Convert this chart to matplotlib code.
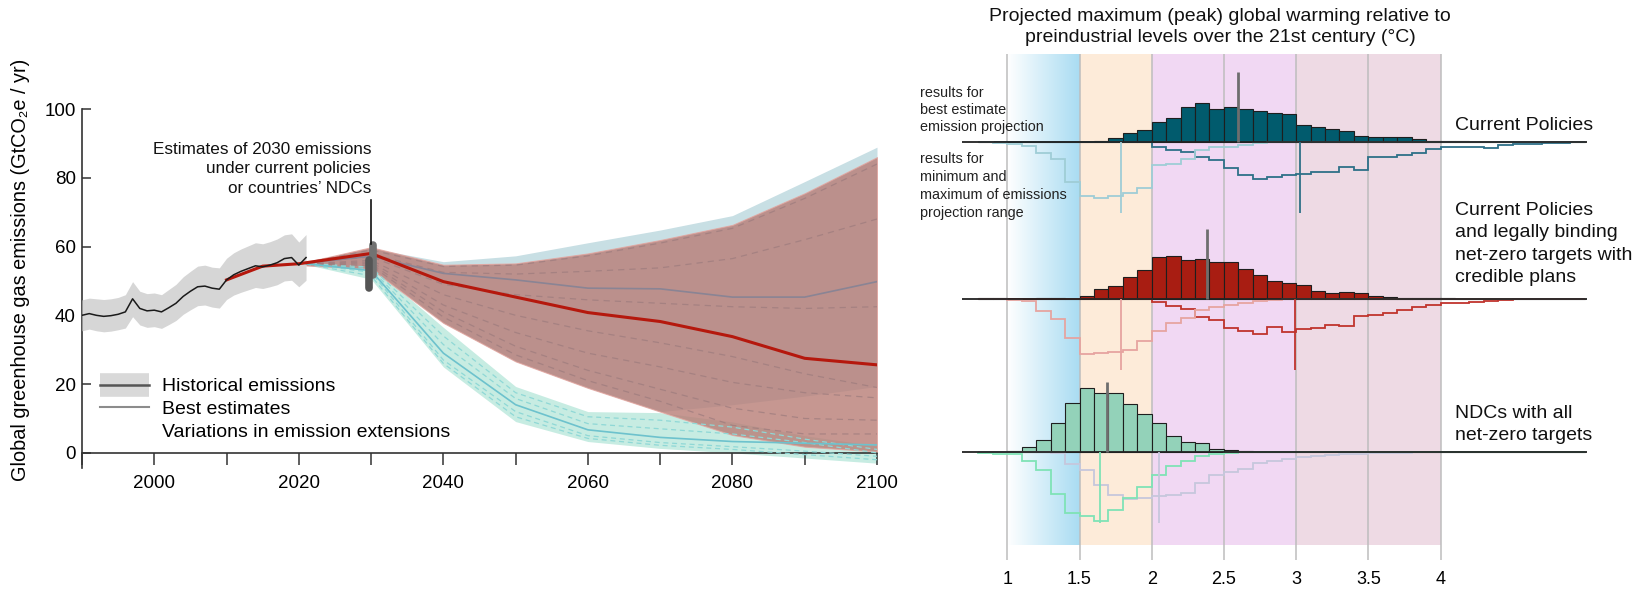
import numpy as np
import matplotlib
matplotlib.use('Agg')
import matplotlib.pyplot as plt
from matplotlib.lines import Line2D
from matplotlib.colors import LinearSegmentedColormap

plt.rcParams['font.family'] = ['Liberation Sans', 'DejaVu Sans']

# ------------------------------------------------------------------ data (left)
hist_years = list(range(1990, 2022))
hist_mid = [40.0, 40.5, 40.0, 39.7, 39.9, 40.3, 41.0, 44.8, 42.0, 41.3, 41.5, 41.0,
            42.2, 43.5, 45.5, 47.0, 48.3, 48.5, 47.9, 47.6, 50.3, 51.8, 52.8, 53.6,
            54.4, 54.1, 54.6, 55.3, 56.5, 56.8, 54.6, 56.8]
hist_hi = [44.5, 45.0, 44.8, 44.6, 44.8, 45.2, 46.0, 49.8, 47.0, 46.3, 46.5, 46.0,
           47.5, 49.0, 51.2, 52.8, 54.3, 54.6, 54.0, 53.8, 56.6, 58.2, 59.3, 60.2,
           61.1, 60.8, 61.4, 62.2, 63.4, 63.7, 61.3, 63.5]
hist_lo = [35.5, 36.0, 35.5, 35.2, 35.4, 35.8, 36.3, 39.6, 37.2, 36.5, 36.7, 36.2,
           37.3, 38.5, 40.3, 41.6, 42.8, 43.0, 42.4, 42.1, 44.6, 45.9, 46.7, 47.4,
           48.1, 47.8, 48.3, 48.9, 50.0, 50.2, 48.3, 50.2]

proj_years = [2021, 2030, 2040, 2050, 2060, 2070, 2080, 2090, 2100]
# Current policies range (blue-grey)
cp_hi = [55.5, 59.5, 55.6, 57.3, 61.1, 64.8, 69.0, 78.9, 88.9]
cp_lo = [54.5, 53.5, 37.8, 26.6, 18.9, 12.0, 14.0, 16.5, 19.3]
# Current policies + legally binding net-zero targets (red)
lb_hi = [55.5, 59.8, 54.7, 55.1, 58.0, 61.9, 66.3, 75.5, 86.0]
lb_lo = [54.5, 53.5, 37.8, 26.6, 18.9, 12.0, 5.2, 1.8, 0.4]
# NDCs with all net-zero targets (mint)
nz_hi = [55.2, 54.5, 36.5, 19.3, 12.0, 11.7, 9.0, 5.0, 2.0]
nz_lo = [54.8, 50.5, 25.0, 9.1, 3.3, 1.3, 0.0, -1.5, -3.0]

lb_mid_years = [2010, 2015, 2020, 2030, 2040, 2050, 2060, 2070, 2080, 2090, 2100]
lb_mid = [50.3, 54.3, 55.0, 58.0, 49.8, 45.3, 40.8, 38.2, 33.8, 27.5, 25.6]
cp_mid = [55.2, 57.2, 52.2, 50.3, 47.9, 47.7, 45.3, 45.3, 49.8]
nz_mid = [55.0, 53.0, 29.0, 14.0, 6.7, 4.5, 3.3, 2.8, 2.3]

lb_variations = [
    [55.3, 59.0, 54.2, 54.6, 57.3, 61.0, 65.3, 74.0, 84.0],
    [55.3, 57.8, 52.5, 52.0, 52.8, 53.8, 56.5, 62.0, 68.0],
    [55.3, 57.0, 49.0, 46.0, 44.5, 43.5, 42.5, 42.0, 42.5],
    [55.0, 56.0, 46.0, 40.0, 35.5, 32.0, 28.0, 23.0, 19.0],
    [55.0, 55.5, 43.0, 35.0, 29.0, 25.0, 20.5, 17.5, 16.0],
    [55.0, 55.0, 41.0, 31.0, 24.0, 18.5, 13.0, 10.0, 9.5],
    [55.0, 54.5, 39.5, 28.5, 21.0, 15.0, 8.0, 5.5, 5.5],
]
nz_variations = [
    [55.1, 54.0, 34.0, 17.5, 10.5, 9.5, 7.5, 4.0, 1.0],
    [55.0, 53.5, 31.5, 15.8, 8.5, 7.0, 5.5, 3.0, 0.0],
    [55.0, 52.5, 27.0, 12.0, 5.0, 3.0, 1.8, 0.5, -1.0],
    [54.9, 51.5, 26.0, 10.5, 4.2, 2.2, 1.0, -0.5, -2.0],
]

est2030_x = [2030.25, 2029.75]
est2030_lo = [51.7, 48.0]
est2030_hi = [60.5, 56.0]

x_major = [2000, 2020, 2040, 2060, 2080, 2100]
y_major = [0, 20, 40, 60, 80, 100]

# ------------------------------------------------------------------ data (right)
temp_edges = [round(0.8 + 0.1 * i, 1) for i in range(43)]   # 0.8 ... 5.0 °C
#            0.8  0.9  1.0  1.1  1.2  1.3  1.4  1.5  1.6  1.7  1.8  1.9  2.0  2.1  2.2  2.3  2.4  2.5  2.6  2.7  2.8  2.9  3.0  3.1  3.2  3.3  3.4  3.5  3.6  3.7  3.8  3.9  4.0  4.1  4.2  4.3  4.4  4.5  4.6  4.7  4.8  4.9
cp_best = [0.1, 0.1, 0.1, 0.1, 0.1, 0.2, 0.2, 0.1, 0.3, 1.2, 2.7, 3.7, 6.0, 7.3, 10.7, 11.9, 10.0, 10.5, 10.1, 9.4, 8.9, 8.5, 5.1, 4.7, 4.0, 3.5, 1.9, 1.5, 1.5, 1.5, 0.9, 0.5, 0.4, 0.3, 0.2, 0.1, 0.1, 0.1, 0.1, 0.0, 0.0, 0.0]
cp_min = [0.0, 0.3, 0.5, 1.1, 3.2, 5.0, 11.8, 16.1, 16.6, 16.1, 15.1, 13.8, 6.8, 6.5, 5.1, 2.3, 1.5, 1.5, 0.8, 0.3, 0.0, 0.0, 0.0, 0.0, 0.0, 0.0, 0.0, 0.0, 0.0, 0.0, 0.0, 0.0, 0.0, 0.0, 0.0, 0.0, 0.0, 0.0, 0.0, 0.0, 0.0, 0.0]
cp_max = [0.0, 0.0, 0.0, 0.0, 0.0, 0.0, 0.0, 0.0, 0.0, 0.0, 0.0, 0.0, 1.3, 2.2, 2.8, 4.3, 5.3, 7.8, 9.8, 11.0, 10.4, 9.8, 9.5, 9.0, 8.8, 7.3, 8.3, 4.5, 4.3, 3.8, 3.3, 2.1, 1.5, 1.5, 1.5, 1.7, 0.8, 0.5, 0.5, 0.3, 0.2, 0.0]

lb_best = [0.1, 0.1, 0.0, 0.0, 0.3, 0.3, 0.0, 0.9, 2.8, 3.9, 6.6, 8.6, 12.4, 12.8, 11.6, 11.9, 11.1, 11.0, 8.8, 7.0, 5.4, 4.8, 4.1, 2.4, 1.8, 2.1, 1.6, 0.8, 0.6, 0.3, 0.2, 0.1, 0.1, 0.0, 0.0, 0.0, 0.0, 0.0, 0.0, 0.0, 0.0, 0.0]
lb_min = [0.0, 0.0, 0.4, 0.6, 3.6, 6.1, 11.8, 16.6, 16.4, 15.9, 15.4, 12.6, 9.7, 7.2, 5.7, 3.4, 2.6, 1.9, 1.4, 0.8, 0.4, 0.2, 0.0, 0.0, 0.0, 0.0, 0.0, 0.0, 0.0, 0.0, 0.0, 0.0, 0.0, 0.0, 0.0, 0.0, 0.0, 0.0, 0.0, 0.0, 0.0, 0.0]
lb_max = [0.0, 0.0, 0.0, 0.0, 0.0, 0.0, 0.0, 0.0, 0.0, 0.0, 0.0, 0.2, 0.9, 2.2, 3.2, 5.4, 6.4, 8.9, 9.7, 10.7, 8.6, 10.0, 9.2, 8.9, 7.9, 8.2, 5.2, 4.9, 4.2, 3.4, 2.6, 1.9, 1.4, 1.2, 0.9, 0.6, 0.4, 0.2, 0.1, 0.0, 0.0, 0.0]

nz_best = [0.1, 0.1, 0.5, 1.5, 3.7, 8.9, 14.9, 19.2, 17.7, 17.7, 14.5, 11.5, 8.9, 5.0, 3.2, 2.7, 1.0, 0.7, 0.5, 0.1, 0.1, 0.1, 0.0, 0.0, 0.0, 0.0, 0.0, 0.0, 0.0, 0.0, 0.0, 0.0, 0.0, 0.0, 0.0, 0.0, 0.0, 0.0, 0.0, 0.0, 0.0, 0.0]
nz_min = [0.3, 0.5, 0.5, 2.5, 5.3, 12.6, 18.1, 19.1, 20.5, 17.3, 13.8, 10.3, 6.8, 4.1, 2.5, 1.1, 0.5, 0.2, 0.0, 0.0, 0.0, 0.0, 0.0, 0.0, 0.0, 0.0, 0.0, 0.0, 0.0, 0.0, 0.0, 0.0, 0.0, 0.0, 0.0, 0.0, 0.0, 0.0, 0.0, 0.0, 0.0, 0.0]
nz_max = [0.0, 0.0, 0.0, 0.0, 0.0, 0.3, 3.5, 5.2, 9.8, 12.8, 14.0, 13.8, 13.0, 12.8, 12.2, 9.3, 6.8, 5.8, 5.0, 3.3, 2.5, 2.0, 1.4, 1.0, 0.8, 0.6, 0.4, 0.3, 0.2, 0.2, 0.0, 0.0, 0.0, 0.0, 0.0, 0.0, 0.0, 0.0, 0.0, 0.0, 0.0, 0.0]

# medians: best estimate, minimum and maximum emission projection
cp_medians = [2.60, 1.79, 3.03]
lb_medians = [2.38, 1.79, 2.99]
nz_medians = [1.69, 1.64, 2.05]

scenario_labels = ["Current Policies",
                   "Current Policies\nand legally binding\nnet-zero targets with\ncredible plans",
                   "NDCs with all\nnet-zero targets"]
warming_ticks = [1, 1.5, 2, 2.5, 3, 3.5, 4]
warming_ticklabels = ["1", "1.5", "2", "2.5", "3", "3.5", "4"]
warming_bands = [(1.5, 2.0, '#fdebd9'), (2.0, 3.0, '#f1d8f3'), (3.0, 4.0, '#eedae4')]

# ------------------------------------------------------------------ figure
W, H = 1641, 589
fig = plt.figure(figsize=(W / 100, H / 100), dpi=100)
PT = 0.72  # points per pixel at 100 dpi

# ====================== LEFT PANEL ======================
ax = fig.add_axes([82 / W, 1 - 468 / H, (877 - 82) / W, (468 - 109) / H])
ax.set_xlim(1990, 2100)
ax.set_ylim(-4.4, 100)

ax.fill_between(proj_years, nz_lo, nz_hi, color='#c7ece2', lw=0, zorder=1)
ax.fill_between(proj_years, cp_lo, cp_hi, color='#c8dfe4', lw=0, zorder=2)
ax.fill_between(proj_years, lb_lo, lb_hi, facecolor='#b87d76', alpha=0.8,
                edgecolor='#e3a49e', lw=0.8, zorder=3)

for v in nz_variations:
    ax.plot(proj_years, v, color='#8fd8d6', lw=0.9, ls=(0, (4, 3)), zorder=4)
for v in lb_variations:
    ax.plot(proj_years, v, color='#9c7b7d', lw=0.9, ls=(0, (5, 4)), alpha=0.7, zorder=4)

ax.fill_between(hist_years, hist_lo, hist_hi, color='#d6d6d6', lw=0, zorder=3.5)

ax.plot(proj_years, nz_mid, color='#6dc2cd', lw=1.2, zorder=5)
ax.plot(proj_years, cp_mid, color='#8a8494', lw=1.2, zorder=5)
ax.plot(lb_mid_years, lb_mid, color='#b5180d', lw=2.2, zorder=6)
ax.plot(hist_years, hist_mid, color='#1a1a1a', lw=1.1, zorder=7)

for x, lo, hi, c in zip(est2030_x, est2030_lo, est2030_hi, ['#727272', '#555555']):
    ax.plot([x, x], [lo, hi], color=c, lw=5.5, solid_capstyle='round', zorder=8)

ax.plot([2030, 2030], [73.5, 60.8], color='#111111', lw=1.2, zorder=8)
ax.text(2030, 82.6, "Estimates of 2030 emissions\nunder current policies\nor countries\u2019 NDCs",
        ha='right', va='center', fontsize=12.3, linespacing=1.4, color='#111111')

for s in ['top', 'right']:
    ax.spines[s].set_visible(False)
ax.spines['bottom'].set_position(('data', 0))
for s in ['left', 'bottom']:
    ax.spines[s].set_color('#333333')
    ax.spines[s].set_linewidth(1.2)
ax.set_xticks(x_major)
ax.set_xticks(list(range(1990, 2101, 10)), minor=True)
ax.set_yticks(y_major)
ax.tick_params(axis='x', which='both', direction='out', length=12 * PT, width=1.1,
               color='#333333', labelsize=13.5, pad=7)
ax.tick_params(axis='y', direction='in', length=9 * PT, width=1.1, color='#333333',
               labelsize=13.5, pad=4.5)
ax.set_ylabel("Global greenhouse gas emissions (GtCO\u2082e / yr)", fontsize=14.3)
ax.yaxis.set_label_coords(-0.066, 0.552)

leg_handles = [
    (Line2D([], [], color='#d9d9d9', lw=17, solid_capstyle='butt'),
     Line2D([], [], color='#555555', lw=1.8)),
    Line2D([], [], color='#8c8c8c', lw=1.5),
    Line2D([], [], color='none'),
]
leg_labels = ["Historical emissions", "Best estimates", "Variations in emission extensions"]
ax.legend(leg_handles, leg_labels, loc='lower left', bbox_to_anchor=(0.0226, 0.075),
          frameon=False, fontsize=14, handlelength=2.5, handletextpad=0.7,
          labelspacing=0.27, borderpad=0, borderaxespad=0)

# ====================== RIGHT PANEL ======================
X1PX, PXDEG = 1007.3, 144.4


def px2deg(px):
    return 1 + (px - X1PX) / PXDEG


axr = fig.add_axes([900 / W, 1 - 560 / H, (W - 900) / W, (560 - 54) / H])
for s in axr.spines.values():
    s.set_visible(False)
axr.set_yticks([])
axr.set_xticks(warming_ticks)
axr.set_xticklabels(warming_ticklabels)
axr.tick_params(axis='x', length=0, labelsize=13, pad=8)

band_bottom, band_top = H - 545, H - 54
grad_cmap = LinearSegmentedColormap.from_list('g', ['#ffffff', '#a9dcf2'])
axr.imshow(np.linspace(0, 1, 256).reshape(1, -1), cmap=grad_cmap, aspect='auto',
           extent=[1.0, 1.5, band_bottom, band_top], zorder=0)
for a, b, c in warming_bands:
    axr.fill_between([a, b], band_bottom, band_top, color=c, lw=0, zorder=0)
axr.vlines(warming_ticks, H - 560, band_top, color='#bdbdbd', lw=1.1, zorder=0.5)
axr.set_xlim(px2deg(900), px2deg(W))
axr.set_ylim(H - 560, H - 54)

HS = 10 / 3  # pixel height per histogram unit
bases = [H - 142.3, H - 298.7, H - 452.3]
rows = [
    (cp_best, cp_min, cp_max, cp_medians, '#015b6d', '#9fcdd6', '#2e7088'),
    (lb_best, lb_min, lb_max, lb_medians, '#a81d12', '#e6a4a0', '#c0342d'),
    (nz_best, nz_min, nz_max, nz_medians, '#93d2b9', '#7fe3b6', '#c6c7dc'),
]
edges = np.array(temp_edges)
for base, (best, mn, mx, med, cbar, cmin, cmax) in zip(bases, rows):
    axr.bar(edges[:-1], np.array(best) * HS, width=0.1, align='edge', bottom=base,
            color=cbar, edgecolor='#1e1e1e', linewidth=0.8, zorder=2)
    axr.stairs(base - np.array(mx) * HS, edges, baseline=base, color=cmax, lw=1.3, zorder=3)
    axr.stairs(base - np.array(mn) * HS, edges, baseline=base, color=cmin, lw=1.3, zorder=3)
    axr.hlines(base, px2deg(962), px2deg(1587), color='#222222', lw=1.3, zorder=4)
    axr.vlines(med[0], base, base + 70, color='#6e6e6e', lw=2.0, zorder=5)
    axr.vlines(med[1], base - 71, base, color=cmin, lw=1.3, zorder=5)
    axr.vlines(med[2], base - 71, base, color=cmax, lw=1.3, zorder=5)

label_y = [H - 125, H - 244, H - 424.5]
for y, txt in zip(label_y, scenario_labels):
    axr.text(px2deg(1455), y, txt, ha='left', va='center', fontsize=14,
             linespacing=1.4, color='#111111')

axr.text(px2deg(920), H - 110, "results for\nbest estimate\nemission projection",
         ha='left', va='center', fontsize=10.4, linespacing=1.27, color='#222222')
axr.text(px2deg(920), H - 186, "results for\nminimum and\nmaximum of emissions\nprojection range",
         ha='left', va='center', fontsize=10.4, linespacing=1.36, color='#222222')

fig.text(1220 / W, 1 - 27 / H,
         "Projected maximum (peak) global warming relative to\npreindustrial levels over the 21st century (\u00b0C)",
         ha='center', va='center', fontsize=14, linespacing=1.38, color='#111111')

fig.savefig('out.png', dpi=100)
